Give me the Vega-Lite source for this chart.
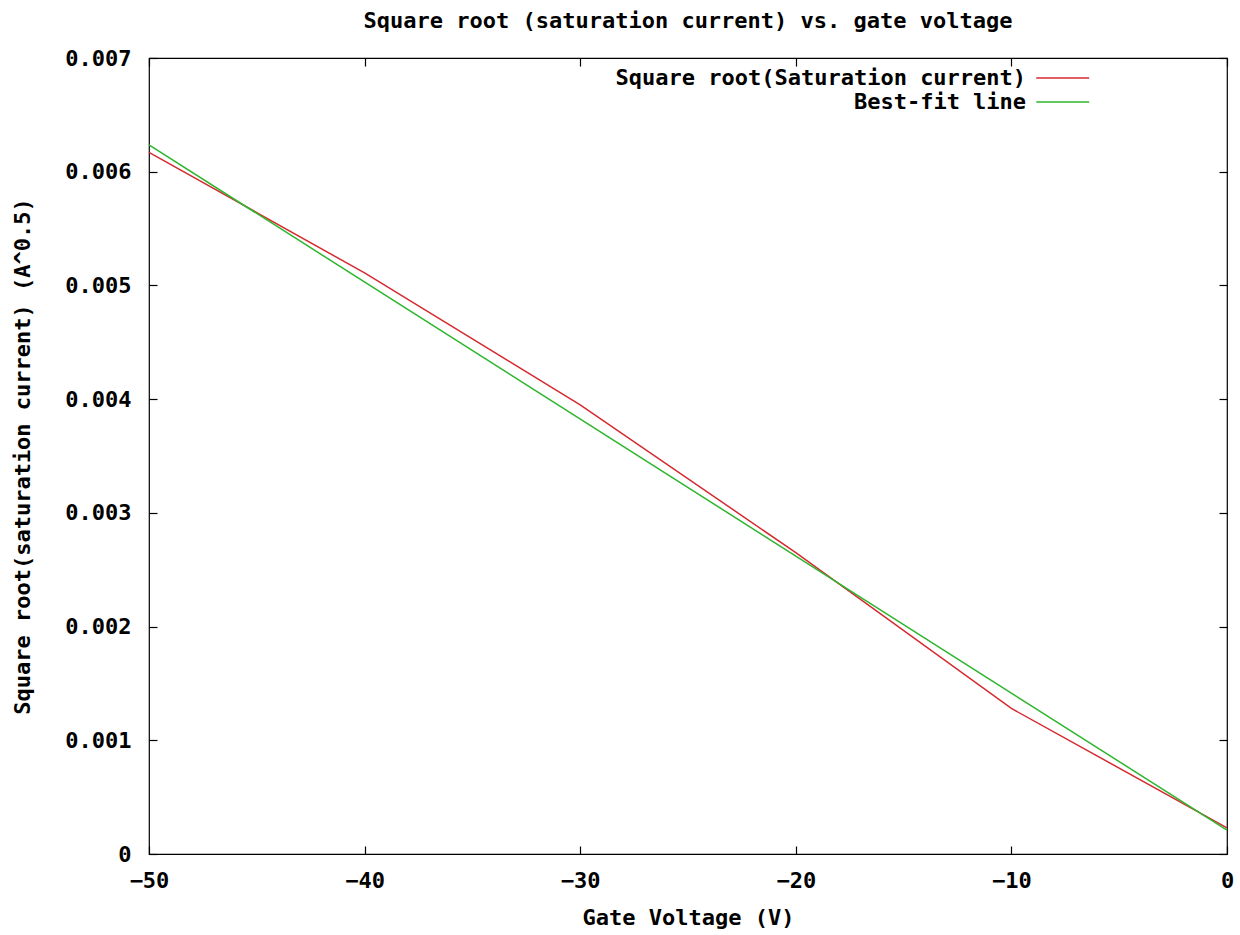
{
  "$schema": "https://vega.github.io/schema/vega-lite/v6.json",
  "width": 1078,
  "height": 796,
  "autosize": "none",
  "padding": {"left": 149, "top": 58, "right": 13, "bottom": 81},
  "background": "white",
  "title": {
    "text": "Square root (saturation current) vs. gate voltage",
    "font": "DejaVu Sans Mono",
    "fontSize": 22,
    "fontWeight": "bold",
    "color": "black",
    "anchor": "middle",
    "offset": 14
  },
  "config": {
    "view": {"stroke": "black", "strokeWidth": 1.2},
    "axis": {
      "labelFont": "DejaVu Sans Mono",
      "labelFontSize": 22,
      "labelFontWeight": "bold",
      "labelColor": "black",
      "labelFlush": false,
      "titleFont": "DejaVu Sans Mono",
      "titleFontSize": 22,
      "titleFontWeight": "bold",
      "titleColor": "black",
      "grid": false,
      "domain": false,
      "tickColor": "black",
      "tickSize": -8,
      "tickWidth": 1.2
    },
    "legend": {
      "labelFont": "DejaVu Sans Mono",
      "labelFontSize": 22,
      "labelFontWeight": "bold",
      "labelColor": "black"
    }
  },
  "data": {
    "values": [
      {"V": -50, "value": 0.00617, "series": "Square root(Saturation current)"},
      {"V": -40, "value": 0.00511, "series": "Square root(Saturation current)"},
      {"V": -30, "value": 0.00395, "series": "Square root(Saturation current)"},
      {"V": -20, "value": 0.00265, "series": "Square root(Saturation current)"},
      {"V": -10, "value": 0.00128, "series": "Square root(Saturation current)"},
      {"V": 0, "value": 0.00023, "series": "Square root(Saturation current)"},
      {"V": -50, "value": 0.006235, "series": "Best-fit line"},
      {"V": 0, "value": 0.00021, "series": "Best-fit line"}
    ]
  },
  "encoding": {
    "x": {"field": "V", "type": "quantitative", "scale": {"domain": [-50, 0], "nice": false, "zero": false}},
    "y": {"field": "value", "type": "quantitative", "scale": {"domain": [0, 0.007], "nice": false}},
    "color": {
      "field": "series",
      "type": "nominal",
      "scale": {"domain": ["Square root(Saturation current)", "Best-fit line"], "range": ["#d42a30", "#2db52d"]}
    }
  },
  "layer": [
    {
      "mark": {"type": "line", "strokeWidth": 1.5},
      "encoding": {
        "x": {"field": "V", "type": "quantitative", "axis": {"orient": "bottom", "values": [-50, -40, -30, -20, -10, 0], "labelPadding": 24, "title": "Gate Voltage (V)", "titlePadding": 16}},
        "y": {"field": "value", "type": "quantitative", "axis": {"orient": "left", "values": [0, 0.001, 0.002, 0.003, 0.004, 0.005, 0.006, 0.007], "labelExpr": "datum.value == 0 ? '0' : format(datum.value, '.3f')", "labelPadding": 26, "title": "Square root(saturation current) (A^0.5)", "titlePadding": 30}},
        "color": {
          "field": "series",
          "type": "nominal",
          "legend": {
            "title": null,
            "orient": "none",
            "legendX": 888,
            "legendY": 9,
            "padding": 0,
            "symbolType": "M-5,0H5",
            "symbolSize": 112,
            "symbolStrokeWidth": 1.5,
            "symbolOffset": 14.7,
            "labelAlign": "right",
            "labelOffset": -47.6,
            "labelLimit": 600,
            "rowPadding": 2
          }
        }
      }
    },
    {
      "mark": {"type": "line", "strokeOpacity": 0},
      "encoding": {
        "x": {"field": "V", "type": "quantitative", "axis": {"orient": "top", "values": [-50, -40, -30, -20, -10, 0], "labels": false, "title": null}},
        "y": {"field": "value", "type": "quantitative", "axis": {"orient": "right", "values": [0, 0.001, 0.002, 0.003, 0.004, 0.005, 0.006, 0.007], "labels": false, "title": null}}
      }
    }
  ],
  "resolve": {"axis": {"x": "independent", "y": "independent"}}
}
